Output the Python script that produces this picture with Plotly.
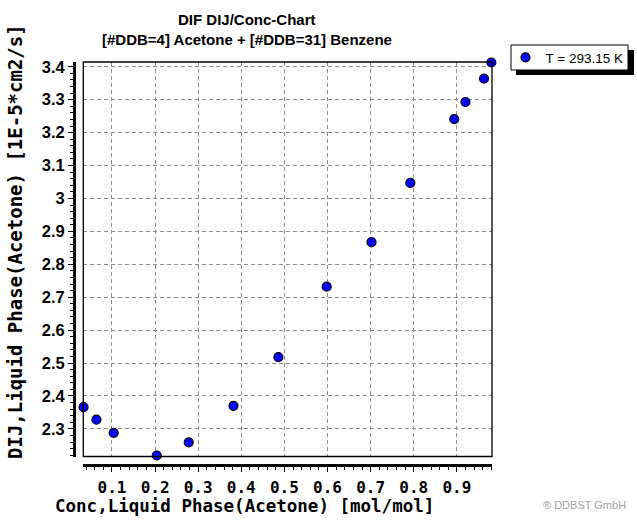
import plotly.graph_objects as go

# ---- data ----
conc = [0.034, 0.064, 0.104, 0.204, 0.278, 0.382, 0.486, 0.598, 0.702, 0.792, 0.894, 0.920, 0.963, 0.980]
dij = [2.366, 2.328, 2.288, 2.219, 2.259, 2.370, 2.518, 2.732, 2.867, 3.047, 3.241, 3.293, 3.364, 3.413]
series_name = "T = 293.15 K"
title_lines = ["DIF DIJ/Conc-Chart", "[#DDB=4] Acetone + [#DDB=31] Benzene"]
x_title = "Conc,Liquid Phase(Acetone) [mol/mol]"
y_title = "DIJ,Liquid Phase(Acetone) [1E-5*cm2/s]"
x_range = [0.0335, 0.9815]
y_range = [2.216, 3.4145]

W, H = 637, 521
L, R, T, B = 74, 492, 62, 465  # paper box in pixels


def px(x):
    return (x - L) / (R - L)


def py(y):
    return (B - y) / (B - T)


fig = go.Figure()
fig.add_trace(go.Scatter(
    x=conc, y=dij, mode="markers", name=series_name,
    marker=dict(size=9, color="#0000FF", line=dict(color="black", width=1.2)),
    cliponaxis=False, showlegend=True,
))

axis_common = dict(
    showline=True, linecolor="black", linewidth=3,
    ticks="outside", ticklen=5, tickwidth=1, tickcolor="black",
    showgrid=True, gridcolor="#8c8c8c", griddash="4px,3px", gridwidth=1,
    zeroline=False,
)

fig.update_layout(
    width=W, height=H,
    margin=dict(l=L, r=W - R, t=T, b=H - B, pad=0, autoexpand=False),
    paper_bgcolor="white", plot_bgcolor="white",
    xaxis=dict(
        **axis_common,
        domain=[px(83.3), 1], range=x_range, anchor="free", position=0,
        tick0=0, dtick=0.1, tickformat=".1f",
        tickfont=dict(family="DejaVu Sans Mono", size=16, color="black", weight="bold"),
        ticklabelstandoff=2,
        minor=dict(dtick=0.02, ticks="outside", ticklen=3, tickcolor="black", showgrid=False),
    ),
    yaxis=dict(
        **axis_common,
        domain=[py(456.5), 1], range=y_range, anchor="free", position=0,
        tick0=0, dtick=0.1,
        tickfont=dict(family="Liberation Sans, Arial", size=16.5, color="black", weight="bold"),
        minor=dict(dtick=0.02, ticks="outside", ticklen=3, tickcolor="black", showgrid=False),
    ),
    showlegend=True,
    legend=dict(
        x=px(505.5), y=py(42), xanchor="left", yanchor="top",
        bgcolor="rgba(0,0,0,0)", borderwidth=0,
        font=dict(family="Liberation Sans, Arial", size=13.5, color="black"),
        itemwidth=30,
    ),
)

shapes = [
    # frame around plot area
    dict(type="rect", xref="x domain", yref="y domain", x0=0, x1=1, y0=0, y1=1,
         line=dict(color="black", width=1.3), layer="above"),
    # legend shadow and box
    dict(type="rect", xref="paper", yref="paper", x0=px(516), x1=px(634), y0=py(75), y1=py(50),
         fillcolor="black", line=dict(width=0), layer="above"),
    dict(type="rect", xref="paper", yref="paper", x0=px(511), x1=px(628), y0=py(70), y1=py(45),
         fillcolor="white", line=dict(color="black", width=1), layer="above"),
]
fig.update_layout(shapes=shapes)

anns = [
    dict(text="<b>%s</b>" % title_lines[0], x=px(247), y=py(19)),
    dict(text="<b>%s</b>" % title_lines[1], x=px(247), y=py(40)),
]
for a in anns:
    a.update(xref="paper", yref="paper", showarrow=False, xanchor="center", yanchor="middle",
             font=dict(family="Liberation Sans, Arial", size=15, color="black"))
anns.append(dict(text="<b>%s</b>" % x_title, x=px(244), y=py(506), xref="paper", yref="paper",
                 showarrow=False, xanchor="center", yanchor="middle",
                 font=dict(family="DejaVu Sans Mono", size=17.5, color="black")))
anns.append(dict(text="<b>%s</b>" % y_title, x=px(15), y=py(242), xref="paper", yref="paper",
                 showarrow=False, xanchor="center", yanchor="middle", textangle=-90,
                 font=dict(family="DejaVu Sans Mono", size=19, color="black")))
anns.append(dict(text="® DDBST GmbH", x=px(541), y=py(505), xref="paper", yref="paper",
                 showarrow=False, xanchor="left", yanchor="middle",
                 font=dict(family="Liberation Sans, Arial", size=11, color="#a0a0a0")))
fig.update_layout(annotations=anns)

fig.write_html("out.html", config={"displayModeBar": False},
               post_script="document.body.style.margin='0';")
